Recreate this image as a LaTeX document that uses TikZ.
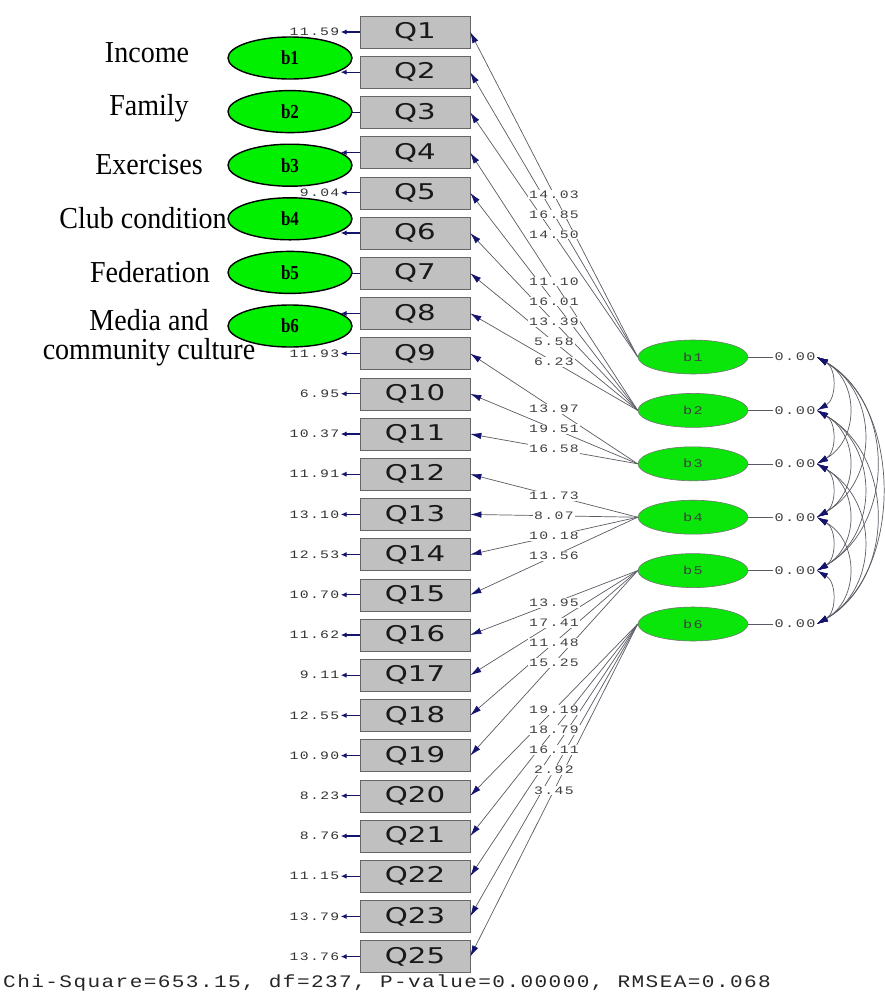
\documentclass[tikz,border=0pt]{standalone}
\usepackage{fontspec}
\setmainfont{Liberation Serif}
\newfontfamily\lisfont[FakeStretch=1.3,LetterSpace=12]{Liberation Mono}
\newfontfamily\fitfont[FakeStretch=1.2,LetterSpace=8]{Liberation Mono}
\newfontfamily\qfont[FakeStretch=1.35]{DejaVu Sans}
\newfontfamily\catfont[FakeStretch=0.92]{Liberation Serif}
\newfontfamily\bfont[FakeStretch=0.85]{Liberation Serif}
\usetikzlibrary{positioning,arrows.meta,shapes.geometric}
\definecolor{boxgray}{RGB}{192,192,192}
\definecolor{linegray}{RGB}{90,90,100}
\definecolor{tipblue}{RGB}{20,20,110}
\definecolor{latgreen}{RGB}{0,240,0}
\definecolor{facgreen}{RGB}{10,230,10}
\tikzset{tipb/.tip={Latex[length=9.5pt,width=5.5pt,color=tipblue]}}

\begin{document}
\begin{tikzpicture}[x=0.03cm, y=0.03cm,
    qbox/.style={rectangle,draw=black!60,fill=boxgray,minimum width=3.3cm,minimum height=0.96cm,
                 inner sep=0pt,text=black!90,font=\qfont\fontsize{18.5}{18.5}\selectfont},
    lat/.style={ellipse,draw=black,line width=1.2pt,fill=latgreen,minimum width=3.72cm,
                minimum height=1.26cm,inner sep=0pt,font=\bfont\bfseries\fontsize{17}{17}\selectfont},
    fac/.style={ellipse,draw=black!55,line width=0.5pt,fill=facgreen,minimum width=3.3cm,
                minimum height=1.02cm,inner sep=0pt,text=black!75,font=\lisfont\fontsize{10}{10}\selectfont},
    errlab/.style={inner sep=1pt,text=black!80,font=\lisfont\fontsize{9.7}{9.7}\selectfont},
    ldlab/.style={fill=white,inner sep=0.8pt,text=black!75,font=\lisfont\fontsize{9.7}{9.7}\selectfont},
    zlab/.style={inner sep=1pt,text=black!75,font=\lisfont\fontsize{10}{10}\selectfont},
    cat/.style={inner sep=0pt,align=center,font=\catfont\fontsize{26}{25}\selectfont},
    err/.style={draw=tipblue,line width=1pt,-{Latex[length=5pt,width=4.5pt]}},
    load/.style={draw=linegray,line width=0.6pt,-tipb},
    cov/.style={draw=linegray,line width=0.6pt,tipb-tipb}]

  \useasboundingbox (0,0) rectangle (884,-999);

  % observed items
  \foreach \n [count=\i from 0] in {1,...,23,25}
    \node[qbox] (q\n) at (415,{-32-40.2*\i}) {Q\n};

  % latent variables and their variances
  \foreach \i in {1,...,6} {
    \node[fac] (r\i) at (693,{-357-53.4*(\i-1)}) {b\i};
    \node[zlab, right=0.75cm of r\i] (z\i) {0.00};
    \draw[draw=linegray,line width=0.4pt] (r\i) -- (z\i);
  }

  % error variances
  \foreach \n/\val in {1/11.59,2/,3/,4/,5/9.04,6/,7/,8/,9/11.93,10/6.95,11/10.37,12/11.91,
                       13/13.10,14/12.53,15/10.70,16/11.62,17/9.11,18/12.55,19/10.90,
                       20/8.23,21/8.76,22/11.15,23/13.79,25/13.76} {
    \node[errlab, left=0.57cm of q\n] (e\n) {\val};
    \draw[err] (q\n.west) -- (e\n.east);
  }

  % legend ellipses
  \foreach \i in {1,...,6}
    \node[lat] (l\i) at (290,{-58-53.6*(\i-1)}) {b\i};

  \node[cat] (inc) at (147,-53) {Income};
  \node[cat] (fam) at (149,-108) {Family};
  \node[cat] (exe) at (149,-165) {Exercises};
  \node[cat] (club) at (143,-218) {Club condition};
  \node[cat] (fed) at (150,-272) {Federation};
  \node[cat] (media) at (149,-338) {Media and\\community culture};

  % loadings
  \newcommand\loadlist{1/1/14.03, 1/2/16.85, 1/3/14.50,
    2/4/11.10, 2/5/16.01, 2/6/13.39, 2/7/5.58, 2/8/6.23,
    3/9/13.97, 3/10/19.51, 3/11/16.58,
    4/12/11.73, 4/13/8.07, 4/14/10.18, 4/15/13.56,
    5/16/13.95, 5/17/17.41, 5/18/11.48, 5/19/15.25,
    6/20/19.19, 6/21/18.79, 6/22/16.11, 6/23/2.92, 6/25/3.45}
  \foreach \fa/\qq/\val in \loadlist
    \path (r\fa.west) edge[load] (q\qq.east);
  \foreach \fa/\qq/\val in \loadlist
    \path (r\fa.west) -- node[ldlab] {\val} (q\qq.east);

  % covariances
  \foreach \a/\b/\c in {1/2/23,1/3/49,1/4/72,1/5/91,1/6/100,2/3/23,2/4/49,2/5/72,
                        2/6/91,3/4/23,3/5/49,3/6/72,4/5/23,4/6/49,5/6/23}
    \draw[cov] (z\a.east) .. controls +(-30:\c) and +(30:\c) .. (z\b.east);

  \node[anchor=west,inner sep=0pt,text=black!85,font=\fitfont\fontsize{15}{15}\selectfont]
    (fit) at (3,-983) {Chi-Square=653.15, df=237, P-value=0.00000, RMSEA=0.068};
\end{tikzpicture}
\end{document}
